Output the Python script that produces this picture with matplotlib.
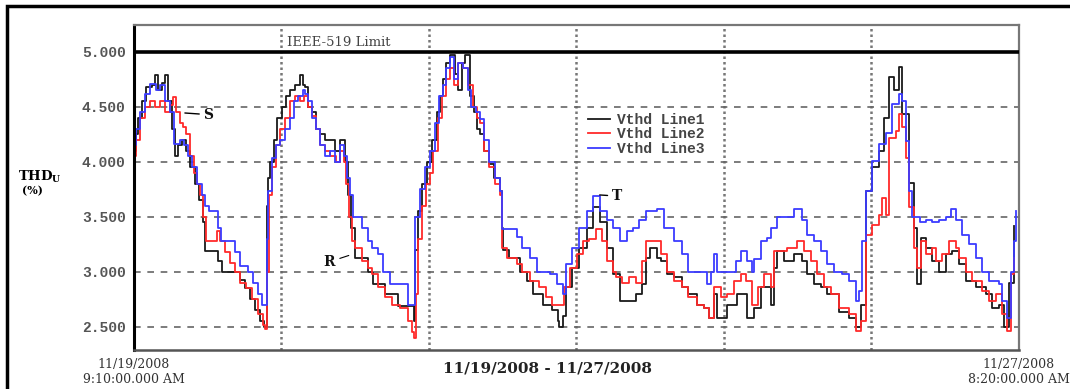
import matplotlib
matplotlib.use("Agg")
import matplotlib.pyplot as plt
from matplotlib.patches import Rectangle

# hours since 11/19/2008 9:10 AM, THD values (%)
line1_t = [0.0, 0.4, 0.9, 1.7, 2.6, 3.9, 4.5, 5.2, 6.0, 6.7, 7.3, 8.2, 8.8, 9.5, 10.4, 11.2, 12.1, 13.2, 14.0, 14.9,
           15.3, 17.0, 18.1, 19.0, 22.0, 22.9, 24.0, 25.0, 26.1, 27.2, 28.1, 28.5, 28.7, 28.9, 29.3, 30.2, 30.9, 31.9,
           32.8, 33.7, 34.7, 35.8, 36.5,
           36.9, 37.5, 38.4, 39.3, 40.1, 41.2, 42.3, 43.4, 44.5, 45.5, 46.2, 46.8, 47.7, 49.8, 50.5, 51.6, 53.7, 54.2,
           56.3, 57.0, 60.0, 60.4, 60.6, 61.3, 62.2, 63.4, 64.3, 65.4, 66.0, 66.7, 67.3, 68.2, 69.3, 69.9, 70.8, 71.6,
           72.5, 73.4, 74.2,
           74.7, 75.7, 76.8, 77.7, 79.0, 79.6, 79.8, 81.1, 83.3, 84.8, 86.1, 88.3, 90.4, 91.5, 91.9, 92.6, 93.4, 94.7,
           96.2, 97.8, 99.1, 100.6, 102.1, 103.4, 104.9, 107.0, 108.5, 109.8, 110.7, 111.4, 112.9,
           113.9, 115.2, 116.7, 118.3, 119.6, 121.7, 123.2, 124.3, 125.4, 126.0, 127.5, 128.2, 130.3, 132.5, 134.0,
           135.5, 137.7, 138.3, 139.0, 140.5, 142.6, 144.2, 145.4, 147.0, 148.5, 149.8, 151.3,
           152.4, 154.5, 156.0, 157.1, 158.2, 159.5, 161.0, 162.1, 163.1, 164.2, 165.3, 165.9, 167.5, 168.5, 169.2,
           170.1, 171.1, 172.4, 173.9, 175.4, 176.7, 178.3, 179.8, 181.9, 184.1, 185.4, 186.9, 188.0, 189.0, 190.1]
line1_v = [4.10, 4.25, 4.40, 4.55, 4.68, 4.70, 4.79, 4.65, 4.72, 4.79, 4.55, 4.30, 4.05, 4.15, 4.20, 4.10, 3.95, 3.80,
           3.65, 3.45, 3.19, 3.19, 3.10, 3.00, 3.00, 2.93, 2.85, 2.75, 2.65, 2.55, 2.50, 2.50, 3.60, 3.85, 4.00, 4.20,
           4.40, 4.50, 4.60, 4.65, 4.70, 4.79, 4.70,
           4.68, 4.50, 4.45, 4.30, 4.25, 4.20, 4.20, 4.10, 4.20, 4.00, 3.70, 3.40, 3.13, 3.13, 3.00, 2.89, 2.89, 2.80,
           2.80, 2.69, 2.69, 2.55, 3.20, 3.55, 3.80, 4.00, 4.20, 4.45, 4.60, 4.75, 4.90, 4.97, 4.80, 4.65, 4.90, 4.97,
           4.60, 4.45, 4.30,
           4.25, 4.10, 3.98, 3.85, 3.74, 3.40, 3.20, 3.13, 3.00, 2.92, 2.80, 2.70, 2.65, 2.55, 2.50, 2.60, 2.86, 3.04,
           3.22, 3.40, 3.59, 3.45, 3.22, 2.98, 2.74, 2.74, 2.80, 2.89, 3.13, 3.22, 3.13,
           3.10, 2.98, 2.95, 2.86, 2.80, 2.70, 2.67, 2.58, 2.80, 2.58, 2.58, 2.70, 2.80, 2.58, 2.67, 2.86, 2.70, 3.04,
           3.19, 3.10, 3.16, 3.10, 2.98, 2.89, 2.86, 2.80, 2.80,
           2.64, 2.58, 2.50, 2.70, 3.74, 3.95, 4.10, 4.40, 4.77, 4.65, 4.86, 4.44, 3.81, 3.40, 2.89, 3.31, 3.22, 3.10,
           3.00, 3.16, 3.19, 3.07, 2.92, 2.86, 2.80, 2.67, 2.70, 2.50, 2.90, 3.42]

line2_t = [0.0, 0.4, 1.3, 2.4, 3.5, 4.5, 5.6, 6.7, 7.8, 8.4, 9.1, 9.9, 10.6, 11.2, 12.1, 12.9, 13.6, 14.2, 14.9, 15.5,
           16.8, 17.9, 18.6, 19.6, 20.7, 21.8, 22.9, 24.2, 25.5, 26.8, 27.8, 28.3, 28.7, 29.1, 29.8, 30.6, 31.5, 32.6,
           33.7, 34.7, 35.8, 36.7,
           37.5, 38.4, 39.3, 40.1, 41.2, 42.3, 43.6, 44.5, 45.3, 45.7, 46.4, 47.0, 47.7, 49.2, 50.5, 51.4, 52.7, 54.2,
           55.7, 57.4, 59.1, 60.0, 60.4, 60.9, 61.3, 62.2, 63.0, 63.9, 64.7, 65.6, 66.5, 67.3, 68.2, 69.1, 69.9, 71.0,
           72.1, 73.2, 74.2,
           74.7, 75.7, 76.8, 77.9, 79.0, 79.6, 80.5, 82.7, 83.9, 85.5, 87.6, 89.1, 90.4, 92.6, 93.0, 94.1, 95.6, 96.9,
           98.4, 99.9, 101.2, 102.1, 103.4, 104.2, 105.5, 107.0, 108.5, 109.8, 110.7, 112.9,
           113.9, 115.2, 116.7, 118.3, 119.6, 121.7, 123.2, 124.3, 125.4, 126.9, 128.2, 129.7, 131.2, 132.3, 133.4,
           134.7, 136.2, 137.7, 138.3, 141.1, 143.3, 144.8, 146.3, 147.6, 149.1, 150.6,
           152.4, 154.5, 156.0, 157.1, 158.2, 159.5, 161.0, 161.6, 162.5, 163.1, 164.7, 165.3, 165.9, 166.8, 167.5,
           168.5, 169.2, 170.1, 171.1, 172.4, 173.3, 174.6, 176.1, 177.6, 178.3, 179.8, 181.1, 183.2, 184.7, 186.2,
           187.5, 188.6, 189.5, 190.1]
line2_v = [4.05, 4.20, 4.40, 4.50, 4.55, 4.50, 4.55, 4.45, 4.52, 4.59, 4.45, 4.35, 4.32, 4.25, 4.05, 3.90, 3.80, 3.70,
           3.50, 3.28, 3.28, 3.37, 3.28, 3.18, 3.08, 3.00, 2.90, 2.85, 2.75, 2.62, 2.52, 2.48, 3.00, 3.70, 3.95, 4.15,
           4.30, 4.40, 4.55, 4.60, 4.55, 4.60,
           4.50, 4.42, 4.30, 4.15, 4.10, 4.05, 4.00, 4.10, 4.00, 3.80, 3.50, 3.28, 3.22, 3.10, 3.04, 2.98, 2.86, 2.77,
           2.70, 2.67, 2.55, 2.45, 2.40, 2.80, 3.30, 3.60, 3.80, 3.90, 4.10, 4.40, 4.60, 4.75, 4.85, 4.70, 4.90, 4.85,
           4.70, 4.50, 4.40,
           4.35, 4.10, 3.95, 3.80, 3.70, 3.22, 3.13, 3.07, 3.00, 2.92, 2.86, 2.77, 2.70, 2.70, 2.86, 3.04, 3.16, 3.28,
           3.30, 3.39, 3.28, 3.10, 3.00, 2.95, 2.90, 2.95, 2.90, 3.10, 3.28, 3.28,
           3.16, 3.00, 2.92, 2.86, 2.77, 2.70, 2.67, 2.58, 2.86, 2.77, 2.80, 2.92, 2.98, 2.92, 2.70, 2.86, 2.98, 2.86,
           3.19, 3.22, 3.28, 3.19, 3.10, 2.98, 2.86, 2.80,
           2.67, 2.62, 2.46, 2.55, 3.34, 3.43, 3.52, 3.67, 3.52, 4.22, 4.28, 4.44, 4.32, 4.04, 3.59, 3.22, 3.04, 3.28,
           3.16, 3.22, 3.10, 3.16, 3.28, 3.22, 3.13, 3.00, 2.92, 2.83, 2.74, 2.80, 2.62, 2.46, 2.98, 3.13]

line3_t = [0.0, 0.4, 1.3, 2.4, 3.5, 4.7, 5.6, 6.7, 7.8, 8.6, 9.9, 10.8, 11.7, 12.5, 13.6, 14.7, 15.3, 16.2, 18.1, 18.8,
           20.7, 21.8, 22.9, 24.6, 25.7, 26.8, 27.6, 28.5, 28.7, 28.9, 29.8, 30.6, 31.5, 32.6, 33.7, 34.5, 35.4, 36.5,
           36.9, 37.5, 38.4, 39.3, 40.1, 41.2, 42.3, 43.4, 44.5, 45.3, 46.0, 46.6, 47.3, 49.2, 50.5, 51.4, 52.7, 53.7,
           55.2, 58.3, 59.1, 60.4, 60.6, 61.7, 62.8, 63.9, 65.0, 65.8, 66.7, 67.3, 68.2, 69.1, 69.9, 71.0, 72.1, 72.9,
           73.8,
           74.7, 75.7, 76.8, 77.9, 79.0, 79.6, 82.7, 83.9, 85.5, 87.0, 89.8, 91.3, 92.6, 93.4, 94.7, 96.2, 97.8, 99.1,
           100.6, 102.1, 103.4, 104.9, 106.4, 107.7, 109.2, 110.7, 112.9,
           114.6, 116.7, 118.3, 119.6, 123.2, 123.7, 124.7, 125.4, 126.0, 130.1, 131.2, 132.5, 133.4, 134.0, 135.5,
           136.8, 137.7, 139.0, 141.1, 142.6, 144.2, 145.4, 147.0, 148.5, 149.8, 151.3,
           153.0, 154.5, 156.0, 156.7, 157.3, 158.2, 159.5, 161.0, 162.5, 163.8, 165.3, 165.9, 166.8, 167.5, 168.1,
           169.7, 171.1, 172.4, 173.9, 175.4, 176.5, 177.6, 178.9, 180.4, 181.9, 183.2, 184.7, 186.9, 187.5, 188.6,
           189.5, 190.1, 190.6]
line3_v = [4.15, 4.30, 4.45, 4.62, 4.71, 4.65, 4.70, 4.55, 4.45, 4.16, 4.20, 4.15, 4.05, 3.95, 3.80, 3.70, 3.60, 3.55,
           3.40, 3.28, 3.28, 3.18, 3.05, 3.00, 2.90, 2.80, 2.70, 2.70, 3.30, 3.74, 4.04, 4.15, 4.20, 4.30, 4.40, 4.55,
           4.60, 4.65,
           4.62, 4.55, 4.40, 4.30, 4.15, 4.05, 4.10, 4.00, 4.15, 4.05, 3.85, 3.70, 3.50, 3.40, 3.28, 3.22, 3.16, 3.00,
           2.89, 2.89, 2.70, 2.70, 3.50, 3.75, 3.95, 4.10, 4.35, 4.60, 4.70, 4.85, 4.95, 4.75, 4.90, 4.85, 4.65, 4.50,
           4.45,
           4.39, 4.20, 4.00, 3.85, 3.74, 3.39, 3.32, 3.22, 3.13, 3.00, 2.98, 2.89, 2.80, 3.07, 3.22, 3.40, 3.55, 3.69,
           3.55, 3.47, 3.40, 3.28, 3.37, 3.40, 3.47, 3.55, 3.57,
           3.40, 3.28, 3.16, 3.00, 3.00, 2.89, 3.00, 3.16, 3.00, 3.10, 3.19, 3.10, 3.00, 3.12, 3.28, 3.31, 3.40, 3.50,
           3.50, 3.57, 3.47, 3.34, 3.28, 3.19, 3.07, 3.00,
           2.98, 2.92, 2.74, 2.83, 3.28, 3.74, 4.01, 4.16, 4.26, 4.53, 4.62, 4.55, 4.19, 3.74, 3.50, 3.45, 3.47, 3.45,
           3.47, 3.50, 3.57, 3.47, 3.34, 3.25, 3.13, 3.00, 2.92, 2.89, 2.74, 2.58, 3.00, 3.28, 3.55]

series_labels = ["Vthd Line1", "Vthd Line2", "Vthd Line3"]
series_colors = ["#1a1a1a", "#ff2a2a", "#3c3cff"]
yticks = [2.5, 3.0, 3.5, 4.0, 4.5, 5.0]
limit = 5.0
total_hours = 191.17
start_label = "11/19/2008\n9:10:00.000 AM"
end_label = "11/27/2008\n8:20:00.000 AM"
range_label = "11/19/2008 - 11/27/2008"

fig = plt.figure(figsize=(10.70, 3.89), dpi=100)
ax = fig.add_axes([0.1252, 0.1003, 0.8271, 0.8355])

series = [(line1_t, line1_v), (line2_t, line2_v), (line3_t, line3_v)]
for (t, v), lab, col in zip(series, series_labels, series_colors):
    ax.plot(t, v, drawstyle="steps-post", color=col, lw=1.3, label=lab)

ax.axhline(limit, color="black", lw=2.6, zorder=3)
ax.text(33.0, 5.09, "IEEE-519 Limit", family="DejaVu Serif", fontsize=9.5,
        color="#444444", ha="left", va="center")

ax.set_xlim(0, total_hours)
ax.set_ylim(2.291, 5.245)
ax.set_yticks(yticks)
ax.set_yticklabels([f"{y:.3f}" for y in yticks])
ax.set_xticks([total_hours * k / 6 for k in range(1, 6)])
ax.set_xticklabels([])
ax.tick_params(axis="both", length=0)
ax.tick_params(axis="y", pad=6, labelcolor="#555555")
for lbl in ax.get_yticklabels():
    lbl.set_family("Liberation Mono")
    lbl.set_fontweight("bold")
    lbl.set_fontsize(10.5)

ax.set_axisbelow(True)
ax.yaxis.grid(True, linestyle=(0, (4, 4)), color="#666666", lw=1.2)
ax.xaxis.grid(True, linestyle=(0, (1, 1.2)), color="#777777", lw=1.8)

ax.spines["left"].set_color("black")
ax.spines["left"].set_linewidth(2.2)
for side in ["top", "right"]:
    ax.spines[side].set_color("#777777")
    ax.spines[side].set_linewidth(1.6)
ax.spines["bottom"].set_color("#555555")
ax.spines["bottom"].set_linewidth(1.8)

leg = ax.legend(loc="upper left", bbox_to_anchor=(0.513, 0.73), frameon=False,
                borderpad=0, borderaxespad=0, handlelength=1.5, handletextpad=0.5,
                labelspacing=0.05, prop={"family": "Liberation Mono", "weight": "bold", "size": 10.5})
for txt in leg.get_texts():
    txt.set_color("#444444")

# point labels
text_kw = dict(family="DejaVu Serif", fontsize=10, fontweight="bold", color="#111111")
ax.annotate("S", xy=(11.0, 4.445), xytext=(15.0, 4.43), va="center", ha="left",
            arrowprops=dict(arrowstyle="-", lw=1, color="black", shrinkA=1, shrinkB=0), **text_kw)
ax.annotate("T", xy=(100.6, 3.70), xytext=(103.2, 3.69), va="center", ha="left",
            arrowprops=dict(arrowstyle="-", lw=1, color="black", shrinkA=1, shrinkB=0), **text_kw)
ax.annotate("R", xy=(46.4, 3.15), xytext=(43.3, 3.09), va="center", ha="right",
            arrowprops=dict(arrowstyle="-", lw=0.8, color="black", shrinkA=2, shrinkB=0), **text_kw)

ax.text(0, -0.025, start_label, transform=ax.transAxes, ha="center", va="top",
        family="DejaVu Serif", fontsize=9, color="#333333", linespacing=1.15)
ax.text(1, -0.025, end_label, transform=ax.transAxes, ha="center", va="top",
        family="DejaVu Serif", fontsize=9, color="#333333", linespacing=1.15)
ax.text(0.467, -0.058, range_label, transform=ax.transAxes, ha="center", va="center",
        family="DejaVu Serif", fontsize=11, fontweight="bold", color="#222222")

fig.text(18 / 1070, 1 - 177 / 389, r"THD$_\mathregular{U}$", family="DejaVu Serif",
         fontsize=9.5, fontweight="bold", ha="left", va="center")
fig.text(22 / 1070, 1 - 191 / 389, "(%)", family="DejaVu Serif",
         fontsize=8, fontweight="bold", ha="left", va="center")

fig.add_artist(Rectangle((7 / 1070, -0.05), 1.1, 1 - 6 / 389 + 0.05, transform=fig.transFigure,
                         fill=False, lw=2.5, edgecolor="black"))

fig.savefig("out.png", dpi=100)
